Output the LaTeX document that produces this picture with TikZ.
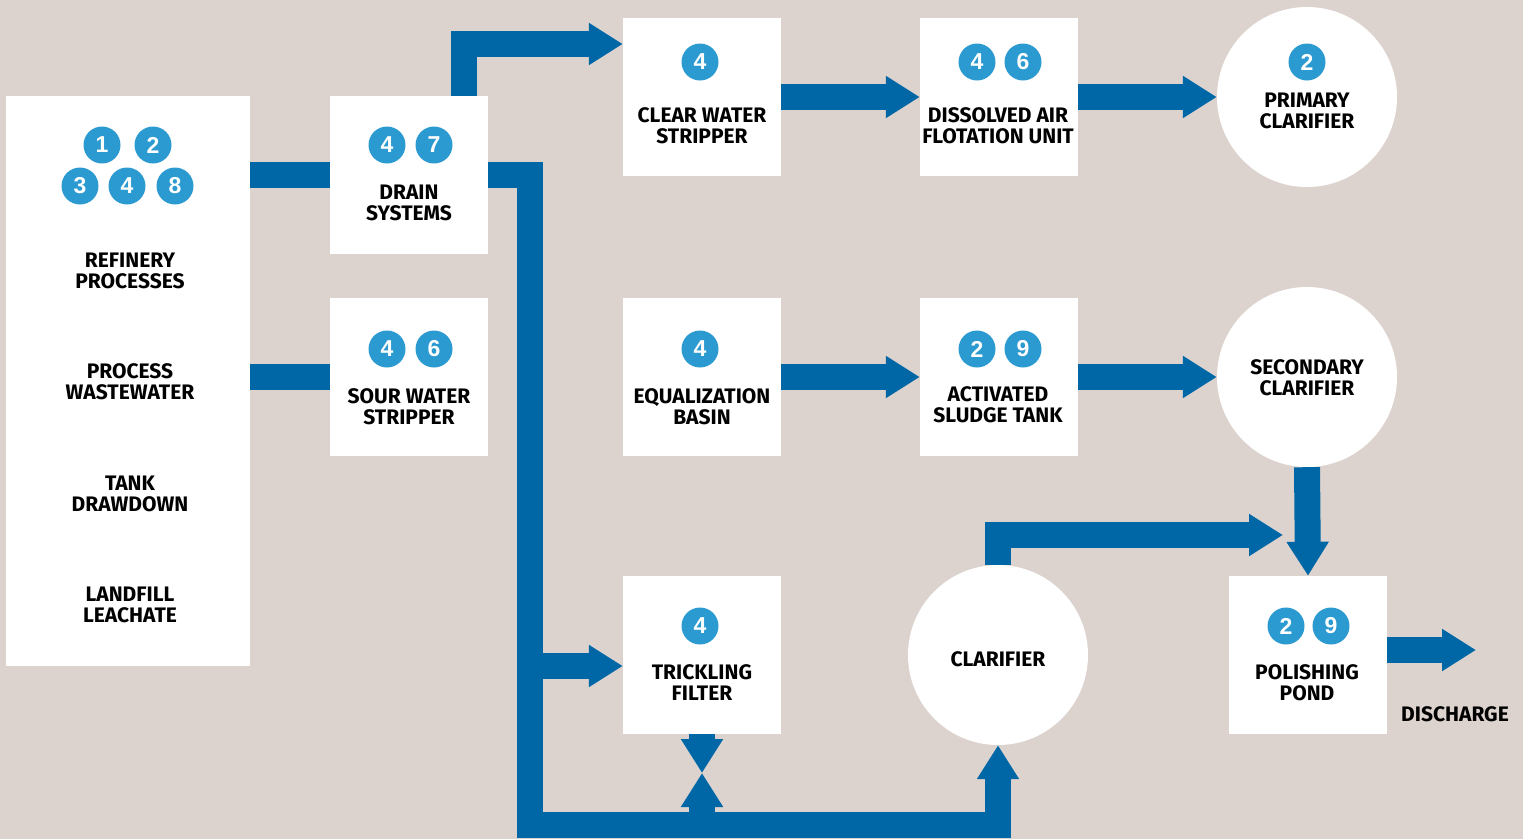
\documentclass[tikz,border=0pt]{standalone}
\usepackage{fontspec}
\setmainfont{Fira Sans}
\newfontfamily\digitfont{Liberation Sans}
\usepackage{xcolor}
\usepackage{tikz}
\usetikzlibrary{arrows.meta}
\usetikzlibrary{positioning}

\definecolor{bgtone}{HTML}{DDD3CE}
\definecolor{pipeblue}{HTML}{0067A7}
\definecolor{badgeblue}{HTML}{2B9AD0}
\newcommand{\lblfont}{\fontsize{21}{21}\selectfont\bfseries}
\newcommand{\numfont}{\digitfont\fontsize{23}{23}\selectfont\bfseries}

\begin{document}
\begin{tikzpicture}[x=1pt,y=-1pt,
  unit/.style={fill=white,minimum width=158pt,minimum height=158pt,inner sep=0pt},
  tank/.style={circle,fill=white,minimum size=180pt,inner sep=0pt},
  badge/.style={circle,fill=badgeblue,text=white,minimum size=37pt,inner sep=0pt,font=\numfont},
  lbl/.style={align=center,font=\lblfont,text=black,inner sep=0pt},
  pipe/.style={draw=pipeblue,line width=26pt,line join=miter},
  tip/.style={-{Triangle[width=40pt,length=34pt]}}]

\useasboundingbox (0,0) rectangle (1523,839);
\fill[bgtone] (0,0) rectangle (1523,839);

%sources and the first units
\node[unit,minimum width=244pt,minimum height=570pt] (src) at (128,381) {};
\node[unit] (drain) at (409,175) {};
\node[unit] (sour) at (409,377) {};

%treatment units
\node[unit] (clear) at (702,97) {};
\node[unit] (daf) at (999,97) {};
\node[tank] (prim) at (1307,97) {};
\node[unit] (eq) at (702,377) {};
\node[unit] (as) at (999,377) {};
\node[tank] (sec) at (1307,377) {};
\node[unit] (tf) at (702,655) {};
\node[tank] (clar) at (998,655) {};
\node[unit] (pond) at (1308,655) {};

%free ends of the pipes
\coordinate (split) at (530,666);
\coordinate (trunk) at (702,825);
\coordinate (tfmid) at (702,773);
\coordinate (pondin) at (1283,535);
\coordinate (out) at (1476,650);

%pipes
\draw[pipe] (src.east |- drain.west) -- (drain.west);
\draw[pipe] (src.east |- sour.west) -- (sour.west);
\draw[pipe,tip] ([xshift=55pt]drain.north) |- ([yshift=53pt]clear.west);
\draw[pipe,tip] (drain.east) -| (530,825) -| (clar.south);
\draw[pipe,tip] (split) -- (split -| tf.west);
\draw[pipe,tip] (tf.south) -- (tfmid);
\draw[pipe,tip] (trunk) -- (tfmid);
\draw[pipe,tip] (clear.east) -- (daf.west);
\draw[pipe,tip] (daf.east) -- (prim.west);
\draw[pipe,tip] (eq.east) -- (as.west);
\draw[pipe,tip] (as.east) -- (sec.west);
\draw[pipe,tip] (clar.north) |- (pondin);
\draw[pipe,tip] (sec.south) -- (pond.north);
\draw[pipe,tip] ([yshift=5pt]pond.east) -- (out);

%numbered badges
\foreach \n/\px/\py [count=\i] in {1/102/145,2/153/145,3/80/186,4/127/186,8/175/186,
    4/387/145,7/434/145,4/387/349,6/434/349,4/700/62,4/977/62,6/1023/62,2/1307/62,
    4/700/349,2/977/349,9/1023/349,4/700/626,2/1286/626,9/1331/626}
  \node[badge] (b\i) at (\px,\py) {\n};

%texts
\node[lbl] (t1) at (130,271) {REFINERY\\PROCESSES};
\node[lbl] (t2) at (130,382) {PROCESS\\WASTEWATER};
\node[lbl] (t3) at (130,494) {TANK\\DRAWDOWN};
\node[lbl] (t4) at (130,605) {LANDFILL\\LEACHATE};
\node[lbl] (tdrain) at (409,203) {DRAIN\\SYSTEMS};
\node[lbl] (tsour) at (409,407) {SOUR WATER\\STRIPPER};
\node[lbl] (tclear) at (702,126) {CLEAR WATER\\STRIPPER};
\node[lbl] (tdaf) at (998,126) {DISSOLVED AIR\\FLOTATION UNIT};
\node[lbl] (tprim) at (1307,111) {PRIMARY\\CLARIFIER};
\node[lbl] (teq) at (702,407) {EQUALIZATION\\BASIN};
\node[lbl] (tas) at (998,405) {ACTIVATED\\SLUDGE TANK};
\node[lbl] (tsec) at (1307,378) {SECONDARY\\CLARIFIER};
\node[lbl] (ttf) at (702,683) {TRICKLING\\FILTER};
\node[lbl] (tclar) at (998,659) {CLARIFIER};
\node[lbl] (tpond) at (1307,683) {POLISHING\\POND};
\node[lbl] (tout) at (1455,714) {DISCHARGE};

\end{tikzpicture}
\end{document}
